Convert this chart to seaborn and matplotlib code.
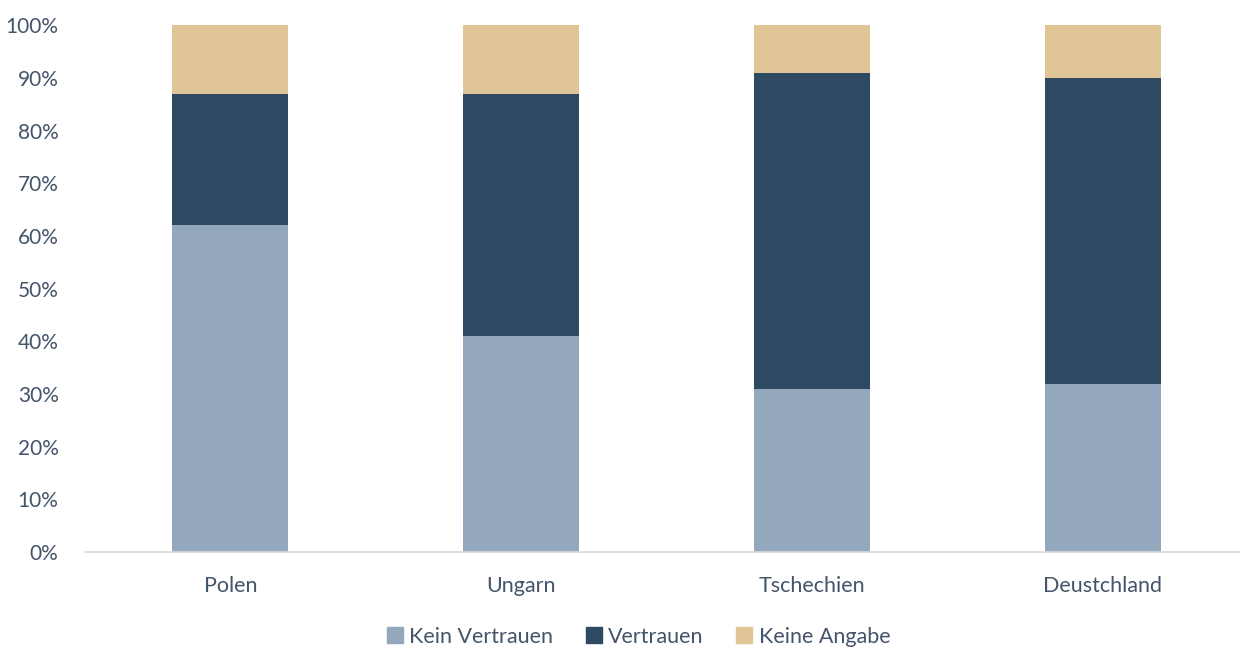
# Stacked 100% bars: Vertrauen by country
import numpy as np
import matplotlib.pyplot as plt
import matplotlib.patches as mpatches
import pandas as pd
import seaborn as sns

# data
countries = ['Polen', 'Ungarn', 'Tschechien', 'Deustchland']
kein_vertrauen = [62, 41, 31, 32]
vertrauen = [25, 46, 60, 58]
keine_angabe = [13, 13, 9, 10]
series_labels = ['Kein Vertrauen', 'Vertrauen', 'Keine Angabe']
series_colors = ['#93A8BC', '#2E4A63', '#E0C596']

df = pd.DataFrame({'land': countries,
                   'kein': np.array(kein_vertrauen) / 100,
                   'vert': np.array(vertrauen) / 100,
                   'angabe': np.array(keine_angabe) / 100})
# cumulative tops, drawn from the back to the front
df['top1'] = df['kein']
df['top2'] = df['kein'] + df['vert']
df['top3'] = df['top2'] + df['angabe']

sns.set_style('white')
plt.rcParams['font.family'] = ['Lato', 'DejaVu Sans']
text_col = '#44546A'

fig = plt.figure(figsize=(12.4, 6.48), dpi=100)
ax = fig.add_axes([0.0685, 0.148, 0.938, 0.813])

for col, c in zip(['top3', 'top2', 'top1'], series_colors[::-1]):
    sns.barplot(data=df, x='land', y=col, color=c, width=0.4,
                saturation=1, ax=ax, linewidth=0)

ax.set_xlim(-0.5, 3.5)
ax.set_ylim(0, 1)
ax.set_yticks(np.arange(0, 1.01, 0.1))
ax.set_yticklabels([f'{int(round(v*100))}%' for v in np.arange(0, 1.01, 0.1)])
ax.set_xlabel('')
ax.set_ylabel('')
ax.tick_params(axis='both', length=0, labelcolor=text_col)
ax.tick_params(axis='x', pad=17, labelsize=15.5)
ax.tick_params(axis='y', pad=19, labelsize=15)
for s in ['top', 'right', 'left']:
    ax.spines[s].set_visible(False)
ax.spines['bottom'].set_color('#D9D9D9')
ax.spines['bottom'].set_linewidth(1.2)

handles = [mpatches.Patch(color=c, label=l) for c, l in zip(series_colors, series_labels)]
fig.legend(handles=handles, loc='lower center', bbox_to_anchor=(0.515, -0.028), ncol=3,
           frameon=False, fontsize=15.5, labelcolor=text_col, handlelength=0.75,
           handleheight=0.75, handletextpad=0.3, columnspacing=1.5)

plt.savefig('out.png', dpi=100)
